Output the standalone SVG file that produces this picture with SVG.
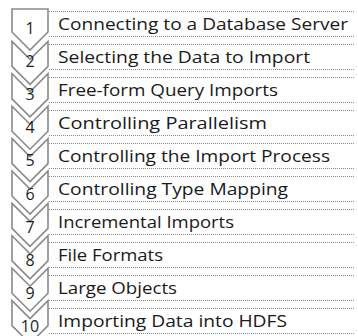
<svg xmlns="http://www.w3.org/2000/svg" width="358" height="336" viewBox="0 0 358 336">
  <style>
    .chev { fill: #ffffff; stroke: #8a8a8a; stroke-width: 1.6; stroke-linejoin: miter; }
    .num { font-family: "Open Sans", "Noto Sans", sans-serif; font-size: 16px; fill: #1e1e1e; text-anchor: middle; }
    .rule { stroke: #8a8a8a; stroke-width: 1; stroke-dasharray: 1 1; fill: none; }
    .label { font-family: "Open Sans", "Noto Sans", sans-serif; font-size: 16px; fill: #1a1a1a; }
  </style>
  <defs>
    <!-- notched chevron pointing down, top corners at y=0 -->
    <path id="chevron" class="chev" d="M12,0 L30,18 L48,0 V25 L30,43 L12,25 Z"/>
    <!-- dotted top and bottom rules of one list row, row top at y=0 -->
    <path id="rows" class="rule" d="M49,0.5 H354 M49,25.5 H354"/>
  </defs>

  <!-- item 1: flat-topped pentagon -->
  <g id="item1">
    <use href="#rows" transform="translate(0,11)"/>
    <path class="chev" d="M12,9 H48 V32 L30,50 L12,32 Z"/>
    <text class="num" x="30" y="33.5">1</text>
    <text class="label" x="58" y="30" textLength="290" lengthAdjust="spacingAndGlyphs">Connecting to a Database Server</text>
  </g>
  <g id="item2">
    <use href="#rows" transform="translate(0,44)"/>
    <use href="#chevron" transform="translate(0,41.4)"/>
    <text class="num" x="30" y="66.7">2</text>
    <text class="label" x="58" y="63" textLength="252" lengthAdjust="spacingAndGlyphs">Selecting the Data to Import</text>
  </g>
  <g id="item3">
    <use href="#rows" transform="translate(0,77)"/>
    <use href="#chevron" transform="translate(0,73.8)"/>
    <text class="num" x="30" y="99.9">3</text>
    <text class="label" x="58" y="96" textLength="220" lengthAdjust="spacingAndGlyphs">Free-form Query Imports</text>
  </g>
  <g id="item4">
    <use href="#rows" transform="translate(0,110)"/>
    <use href="#chevron" transform="translate(0,106.2)"/>
    <text class="num" x="30" y="133.1">4</text>
    <text class="label" x="58" y="129" textLength="209" lengthAdjust="spacingAndGlyphs">Controlling Parallelism</text>
  </g>
  <g id="item5">
    <use href="#rows" transform="translate(0,143)"/>
    <use href="#chevron" transform="translate(0,138.6)"/>
    <text class="num" x="30" y="166.3">5</text>
    <text class="label" x="58" y="162" textLength="272" lengthAdjust="spacingAndGlyphs">Controlling the Import Process</text>
  </g>
  <g id="item6">
    <use href="#rows" transform="translate(0,176)"/>
    <use href="#chevron" transform="translate(0,171)"/>
    <text class="num" x="30" y="199.5">6</text>
    <text class="label" x="58" y="195" textLength="230" lengthAdjust="spacingAndGlyphs">Controlling Type Mapping</text>
  </g>
  <g id="item7">
    <use href="#rows" transform="translate(0,209)"/>
    <use href="#chevron" transform="translate(0,203.4)"/>
    <text class="num" x="30" y="232.7">7</text>
    <text class="label" x="58" y="228" textLength="176" lengthAdjust="spacingAndGlyphs">Incremental Imports</text>
  </g>
  <g id="item8">
    <use href="#rows" transform="translate(0,242)"/>
    <use href="#chevron" transform="translate(0,235.8)"/>
    <text class="num" x="30" y="265.9">8</text>
    <text class="label" x="58" y="261" textLength="105" lengthAdjust="spacingAndGlyphs">File Formats</text>
  </g>
  <g id="item9">
    <use href="#rows" transform="translate(0,275)"/>
    <use href="#chevron" transform="translate(0,268.2)"/>
    <text class="num" x="30" y="299.1">9</text>
    <text class="label" x="58" y="294" textLength="119" lengthAdjust="spacingAndGlyphs">Large Objects</text>
  </g>
  <g id="item10">
    <use href="#rows" transform="translate(0,308)"/>
    <use href="#chevron" transform="translate(0,300.6)"/>
    <text class="num" x="30" y="332.3">10</text>
    <text class="label" x="58" y="327" textLength="229" lengthAdjust="spacingAndGlyphs">Importing Data into HDFS</text>
  </g>
</svg>
